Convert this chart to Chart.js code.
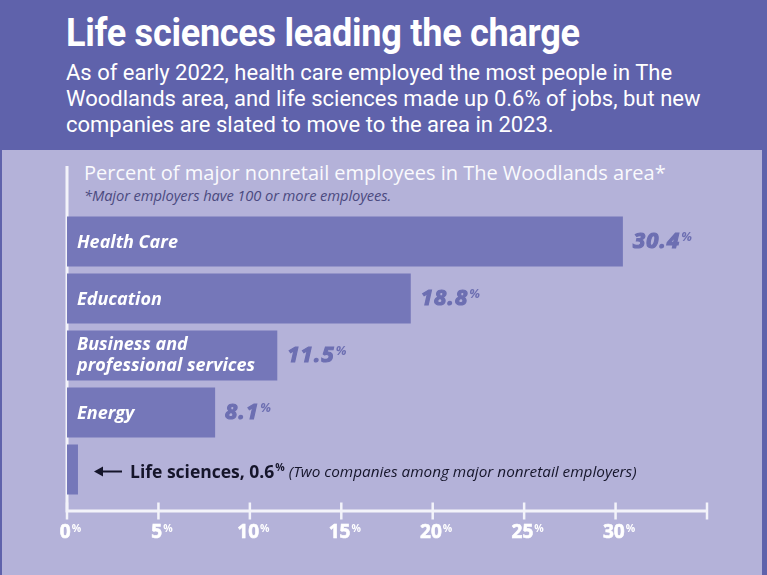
<!DOCTYPE html>
<html>
<head>
<meta charset="utf-8">
<script src="https://cdn.jsdelivr.net/npm/chart.js@4.4.1/dist/chart.umd.min.js"></script>
<style>
    body { margin: 0; }
    #quadro { position: relative; width: 767px; height: 575px; background: #5f62ab; overflow: hidden; }
    #painel { position: absolute; left: 2px; top: 150px; width: 760px; height: 425px; background: #b4b2d9; }
    .txt { position: absolute; margin: 0; white-space: nowrap; }
    #titulo { left: 66px; top: 14px; font: bold 38px/38px "Roboto", sans-serif; color: #fff; letter-spacing: -0.3px; transform: scaleX(0.95); transform-origin: left top; }
    #subtitulo { left: 66px; top: 60px; font: 22px/26px "Roboto", sans-serif; color: #fff; }
    #tituloGrafico { left: 84px; top: 162px; font: 20px/21px "Open Sans", sans-serif; color: #fafafd; }
    #nota { left: 84px; top: 187px; font: italic 14.7px/16px "Open Sans", sans-serif; color: #4b4a80; letter-spacing: -0.1px; }
    #grafico { position: absolute; left: 0; top: 0; }
</style>
</head>
<body>
<div id="quadro">
    <div id="painel"></div>
    <h1 class="txt" id="titulo">Life sciences leading the charge</h1>
    <p class="txt" id="subtitulo">As of early 2022, health care employed the most people in The<br>Woodlands area, and life sciences made up 0.6% of jobs, but new<br>companies are slated to move to the area in 2023.</p>
    <div class="txt" id="tituloGrafico">Percent of major nonretail employees in The Woodlands area*</div>
    <div class="txt" id="nota">*Major employers have 100 or more employees.</div>
    <canvas id="grafico" width="767" height="575"></canvas>
</div>
<script>
// dados
const setores = ['Health Care', 'Education', 'Business and professional services', 'Energy', 'Life sciences'];
const rotulosBarra = [['Health Care'], ['Education'], ['Business and', 'professional services'], ['Energy'], []];
const percentuais = [30.4, 18.8, 11.5, 8.1, 0.6];
const valoresTicks = [0, 5, 10, 15, 20, 25, 30, 35];
const rotulosTicks = ['0', '5', '10', '15', '20', '25', '30', ''];
const notaLifeSciences = '(Two companies among major nonretail employers)';

const corBarra = '#7577b9';
const corValor = '#6d6fb2';
const corEixo = '#f3f3fa';

// escreve um número com o "%" pequeno e elevado (contorno opcional para engrossar)
function textoPct(ctx, num, x, y, fonteNum, fontePct, elevacao, centralizar, contorno) {
    ctx.font = fonteNum;
    const wNum = ctx.measureText(num).width;
    ctx.font = fontePct;
    const wPct = ctx.measureText('%').width;
    let inicio = centralizar ? x - (wNum + wPct) / 2 : x;
    ctx.font = fonteNum;
    ctx.fillText(num, inicio, y);
    if (contorno) ctx.strokeText(num, inicio, y);
    ctx.font = fontePct;
    ctx.fillText('%', inicio + wNum + 1, y - elevacao);
    return inicio + wNum + 1 + wPct;
}

const pluginExtras = {
    id: 'extras',
    beforeDatasetsDraw(chart) {
        const { ctx, chartArea, scales: { x } } = chart;
        const x0 = x.getPixelForValue(0);
        const yEixo = chartArea.bottom + 13;
        ctx.save();
        ctx.strokeStyle = corEixo;
        ctx.lineWidth = 3;
        ctx.beginPath();
        ctx.moveTo(x0, chartArea.top - 47);
        ctx.lineTo(x0, yEixo + 1.5);
        ctx.moveTo(x0, yEixo);
        ctx.lineTo(x.getPixelForValue(x.max), yEixo);
        ctx.stroke();
        ctx.lineWidth = 2.5;
        valoresTicks.forEach(v => {
            const px = x.getPixelForValue(v);
            ctx.beginPath();
            ctx.moveTo(px, yEixo - 8.5);
            ctx.lineTo(px, yEixo + 8.5);
            ctx.stroke();
        });
        ctx.restore();
    },
    afterDatasetsDraw(chart) {
        const { ctx, chartArea, scales: { x } } = chart;
        const meta = chart.getDatasetMeta(0);
        const yEixo = chartArea.bottom + 13;
        const base = x.getPixelForValue(0);
        ctx.save();
        ctx.textBaseline = 'alphabetic';

        // rótulos do eixo x
        ctx.fillStyle = '#ffffff';
        ctx.strokeStyle = '#ffffff';
        ctx.lineWidth = 0.6;
        valoresTicks.forEach((v, i) => {
            if (!rotulosTicks[i]) return;
            textoPct(ctx, rotulosTicks[i], x.getPixelForValue(v) + 3, yEixo + 27,
                'bold 19px "Open Sans"', 'bold 10.5px "Open Sans"', 6.5, true, true);
        });

        meta.data.forEach((barra, i) => {
            const cy = barra.y;
            // nome do setor dentro da barra
            ctx.fillStyle = '#ffffff';
            ctx.font = 'italic bold 18px "Open Sans"';
            const linhas = rotulosBarra[i];
            if (linhas.length === 1) {
                ctx.fillText(linhas[0], base + 10, cy + 6.5);
            } else if (linhas.length === 2) {
                ctx.fillText(linhas[0], base + 10, cy - 5.5);
                ctx.fillText(linhas[1], base + 10, cy + 15);
            }

            if (i < percentuais.length - 1) {
                // valor ao lado da barra
                ctx.fillStyle = corValor;
                ctx.strokeStyle = corValor;
                ctx.lineWidth = 1.2;
                ctx.letterSpacing = '1.2px';
                textoPct(ctx, percentuais[i].toFixed(1), barra.x + 10, cy + 6.5,
                    'italic bold 22px "Open Sans"', 'italic bold 12.5px "Open Sans"', 7.5, false, true);
                ctx.letterSpacing = '0px';
            } else {
                // anotação de life sciences com seta
                const inicioSeta = base + 27;
                const fimSeta = base + 55;
                const ySeta = cy + 2;
                ctx.strokeStyle = '#15152a';
                ctx.fillStyle = '#15152a';
                ctx.lineWidth = 2;
                ctx.beginPath();
                ctx.moveTo(inicioSeta + 4, ySeta);
                ctx.lineTo(fimSeta, ySeta);
                ctx.stroke();
                ctx.beginPath();
                ctx.moveTo(inicioSeta, ySeta);
                ctx.lineTo(inicioSeta + 9, ySeta - 5);
                ctx.lineTo(inicioSeta + 9, ySeta + 5);
                ctx.closePath();
                ctx.fill();
                const fim = textoPct(ctx, setores[i] + ', ' + percentuais[i].toFixed(1), fimSeta + 8, cy + 8,
                    'bold 17.5px "Open Sans"', 'bold 10.5px "Open Sans"', 7, false, false);
                ctx.font = 'italic 15.3px "Open Sans"';
                ctx.fillText(notaLifeSciences, fim + 4, cy + 7.5);
            }
        });
        ctx.restore();
    }
};

new Chart(document.getElementById('grafico'), {
    type: 'bar',
    data: {
        labels: setores,
        datasets: [{
            label: 'Percent of major nonretail employees',
            data: percentuais,
            backgroundColor: corBarra,
            barPercentage: 50 / 57,
            categoryPercentage: 1
        }]
    },
    options: {
        indexAxis: 'y',
        responsive: false,
        animation: false,
        layout: { padding: { left: 67, right: 60, top: 213, bottom: 77 } },
        plugins: { legend: { display: false }, tooltip: { enabled: false } },
        scales: {
            x: { type: 'linear', min: 0, max: 35, display: false },
            y: { type: 'category', display: false }
        }
    },
    plugins: [pluginExtras]
});
</script>
</body>
</html>
